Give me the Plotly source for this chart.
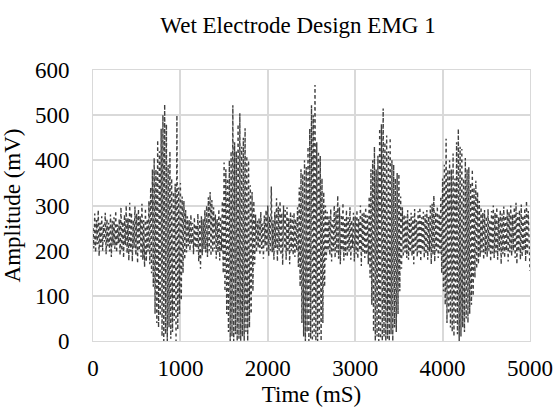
import plotly.graph_objects as go

time_step_ms = 10
amplitude_mv = [
    250, 205, 282, 196, 268, 214, 290, 188, 262, 208,
    276, 200, 258, 220, 284, 192, 270, 210, 262, 198,
    280, 186, 266, 212, 274, 204, 288, 196, 258, 216,
    270, 190, 296, 200, 264, 184, 280, 212, 300, 194,
    272, 178, 306, 198, 284, 176, 268, 206, 298, 190,
    282, 172, 292, 200, 276, 186, 304, 180, 268, 164,
    294, 176, 270, 198, 310, 170, 340, 150, 380, 120,
    405, 60, 380, 40, 445, 30, 420, 55, 470, 10,
    500, 0, 524, 15, 480, 0, 390, 30, 420, 5,
    360, 20, 330, 45, 348, 0, 500, 25, 340, 60,
    350, 90, 320, 150, 310, 180, 290, 196, 276, 210,
    268, 200, 280, 214, 262, 192, 274, 206, 258, 198,
    282, 176, 266, 160, 276, 190, 270, 204, 290, 196,
    300, 186, 318, 200, 330, 188, 312, 196, 296, 204,
    280, 182, 270, 196, 292, 178, 276, 200, 310, 150,
    395, 110, 380, 60, 360, 20, 400, 0, 420, 10,
    522, 0, 440, 15, 420, 0, 480, 5, 504, 0,
    430, 10, 450, 0, 471, 20, 410, 0, 400, 30,
    345, 60, 330, 110, 310, 170, 280, 196, 266, 206,
    272, 190, 286, 204, 260, 182, 278, 210, 290, 196,
    300, 188, 276, 200, 342, 196, 268, 180, 286, 206,
    316, 176, 298, 200, 310, 190, 284, 168, 300, 204,
    290, 180, 296, 196, 272, 170, 286, 200, 278, 190,
    284, 186, 270, 200, 296, 164, 340, 120, 380, 40,
    370, 10, 400, 0, 385, 20, 430, 0, 470, 5,
    522, 0, 500, 10, 567, 0, 440, 0, 420, 15,
    410, 0, 360, 40, 330, 120, 300, 180, 286, 200,
    276, 190, 292, 176, 268, 200, 300, 184, 288, 196,
    322, 182, 296, 170, 280, 200, 306, 178, 270, 190,
    290, 186, 274, 198, 296, 180, 268, 206, 284, 176,
    276, 192, 290, 182, 270, 200, 300, 166, 282, 194,
    286, 184, 296, 190, 278, 170, 320, 140, 380, 80,
    400, 20, 430, 0, 380, 10, 410, 0, 470, 5,
    480, 0, 515, 10, 440, 0, 455, 5, 420, 0,
    450, 15, 400, 0, 390, 30, 360, 20, 372, 60,
    370, 110, 320, 160, 296, 186, 280, 196, 276, 184,
    290, 180, 270, 196, 284, 188, 276, 170, 292, 200,
    268, 186, 288, 196, 296, 176, 274, 200, 286, 184,
    280, 192, 290, 180, 276, 198, 300, 170, 304, 190,
    322, 176, 286, 200, 298, 184, 282, 194, 320, 150,
    360, 110, 390, 80, 448, 40, 380, 60, 400, 30,
    380, 20, 415, 10, 360, 40, 440, 15, 470, 0,
    430, 10, 425, 30, 360, 20, 405, 50, 380, 40,
    385, 60, 350, 80, 380, 100, 340, 140, 355, 160,
    330, 170, 310, 186, 296, 196, 284, 180, 290, 192,
    276, 186, 292, 200, 270, 176, 288, 194, 300, 184,
    284, 196, 296, 180, 274, 200, 290, 170, 282, 192,
    298, 184, 278, 200, 292, 176, 286, 196, 300, 188,
    280, 200, 296, 184, 306, 170, 284, 198, 290, 180,
    302, 186, 278, 200, 294, 176, 310, 190, 288, 196,
    155,
]
time_ms = [i * time_step_ms for i in range(len(amplitude_mv))]

FONT = "'Liberation Serif', 'Times New Roman', serif"
GRID = "#d9d9d9"

fig = go.Figure()
fig.add_trace(go.Scatter(
    x=time_ms, y=amplitude_mv, mode="lines",
    line=dict(color="#404040", width=1.4, dash="dot"),
    showlegend=False,
))

fig.update_layout(
    width=555, height=416,
    margin=dict(l=93, r=25, t=70, b=75),
    paper_bgcolor="white", plot_bgcolor="white",
    font=dict(family=FONT, size=23, color="black"),
    title=dict(text="Wet Electrode Design EMG 1", font=dict(family=FONT, size=23),
               x=0.537, xref="container", y=0.94, yref="container",
               xanchor="center", yanchor="middle"),
)
fig.update_xaxes(
    range=[0, 5000], dtick=1000, showgrid=True, gridcolor=GRID, gridwidth=1.5,
    showline=True, linecolor=GRID, mirror=True, zeroline=False,
    ticks="", ticklabelstandoff=6, automargin=False,
    title=dict(text="Time (mS)", font=dict(size=23), standoff=6),
)
fig.update_yaxes(
    range=[0, 600], dtick=100, showgrid=True, gridcolor=GRID, gridwidth=1.5,
    showline=True, linecolor=GRID, mirror=True, zeroline=False,
    ticks="", ticklabelstandoff=18, automargin=False,
    title=dict(text="Amplitude (mV)", font=dict(size=23), standoff=12),
)

# drop the browser's default body margin so the figure sits at the page origin
fig.write_html("out.html", config={"displayModeBar": False},
               post_script="document.body.style.margin='0';")
